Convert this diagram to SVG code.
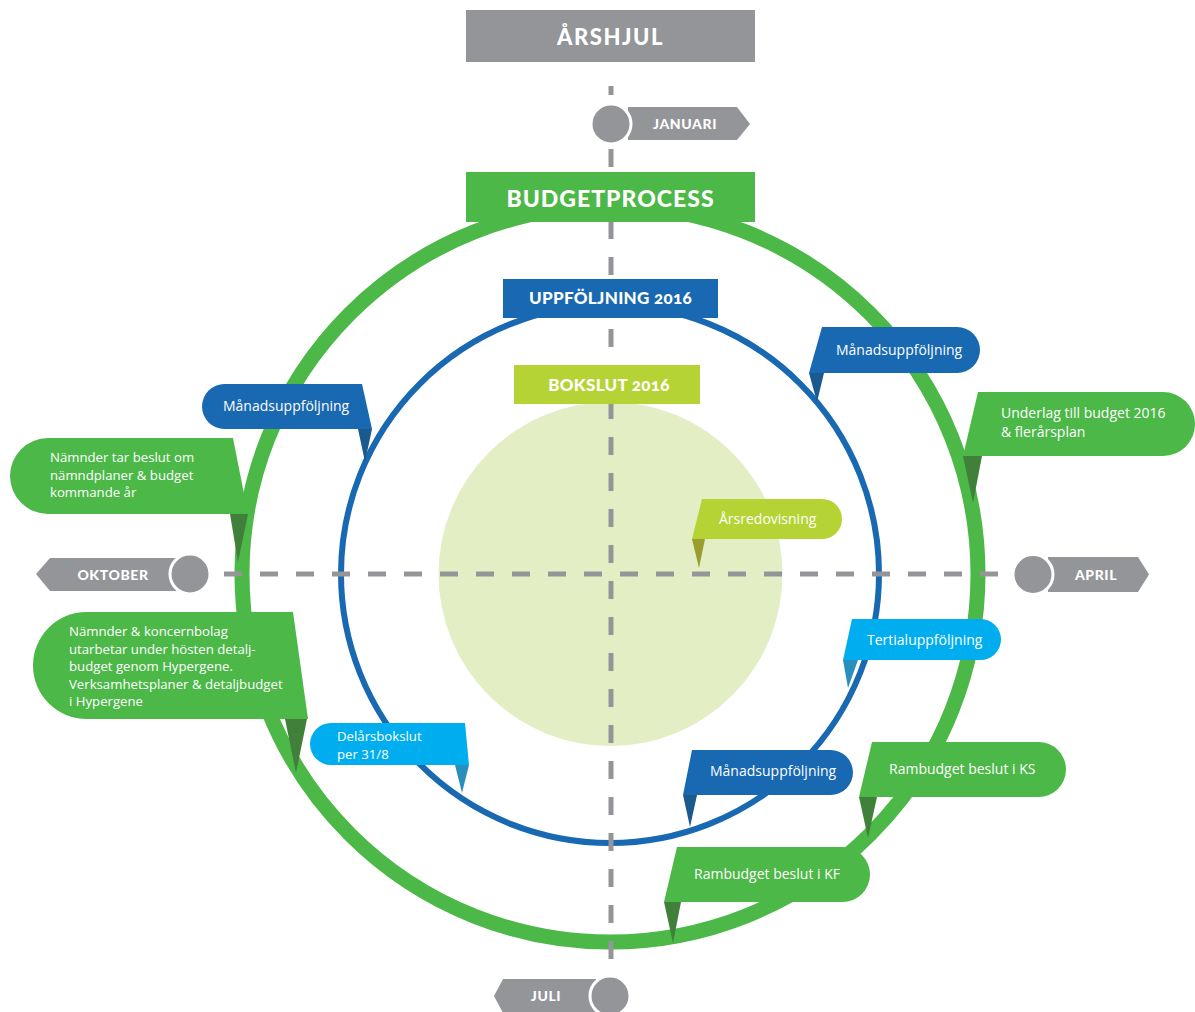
<svg xmlns="http://www.w3.org/2000/svg" width="1195" height="1012" viewBox="0 0 1195 1012">
<style>
.hd{font-family:Lato,"Open Sans","Liberation Sans",sans-serif;font-weight:900;fill:#fff;text-anchor:middle;font-variant-numeric:oldstyle-nums}
.mo{font-family:Lato,"Open Sans","Liberation Sans",sans-serif;font-weight:900;fill:#fff;text-anchor:middle;font-size:14px;letter-spacing:0.6px}
.tx{font-family:"Open Sans","Noto Sans","Liberation Sans",sans-serif;fill:#fff;font-size:14px}
.ts{font-family:"Open Sans","Noto Sans","Liberation Sans",sans-serif;fill:#fff;font-size:13.2px}
.axis{stroke:#939598;stroke-width:5;stroke-dasharray:18 18;fill:none}
.mc{fill:#939598;stroke:#fff;stroke-width:3}
.mt{fill:#939598}
.g{fill:#4cb848}.gd{fill:#41803a}
.b{fill:#1868b2}.bd{fill:#1a5a8c}
.c{fill:#00aeef}.cd{fill:#2a8fbd}
.l{fill:#b5d334}.ld{fill:#9a9e2e}
</style>

<g id="wheel">
  <circle cx="610.5" cy="574" r="172" fill="#e4eec5"/>
  <circle cx="610" cy="574" r="368" fill="none" stroke="#4cb848" stroke-width="15"/>
  <circle cx="610" cy="574" r="269" fill="none" stroke="#1868b2" stroke-width="6"/>
</g>

<g id="connectors">
  <line class="axis" x1="611" y1="86" x2="611" y2="1012" stroke-dashoffset="9"/>
  <line class="axis" x1="224" y1="574" x2="998" y2="574"/>
</g>

<g id="januari">
  <polygon class="mt" points="628,107 737,107 750,124 737,140 628,140"/>
  <circle class="mc" cx="611" cy="124" r="20"/>
  <text class="mo" x="685" y="129">JANUARI</text>
</g>
<g id="april">
  <polygon class="mt" points="1048,557 1138,557 1149,574.5 1138,592 1048,592"/>
  <circle class="mc" cx="1033" cy="574.5" r="20"/>
  <text class="mo" x="1096" y="579.5">APRIL</text>
</g>
<g id="oktober">
  <polygon class="mt" points="36,574 50,558 176,558 176,591 50,591"/>
  <circle class="mc" cx="190" cy="574" r="20"/>
  <text class="mo" x="113" y="579.5" font-size="15">OKTOBER</text>
</g>
<g id="juli">
  <polygon class="mt" points="494,996 503,979 596,979 596,1013 503,1013"/>
  <circle class="mc" cx="610" cy="996" r="20"/>
  <text class="mo" x="546" y="1001">JULI</text>
</g>

<g id="arshjul">
  <rect x="466" y="10" width="289" height="52" fill="#939598"/>
  <text class="hd" x="610.5" y="45" font-size="22" letter-spacing="1.5">ÅRSHJUL</text>
</g>
<g id="budgetprocess">
  <rect x="466" y="172" width="289" height="50" fill="#4cb848"/>
  <text class="hd" x="610.5" y="207" font-size="23" letter-spacing="1">BUDGETPROCESS</text>
</g>
<g id="uppfoljning">
  <rect x="503" y="279" width="215" height="39" fill="#1868b2"/>
  <text class="hd" x="610.5" y="304" font-size="17" letter-spacing="0.3">UPPFÖLJNING 2016</text>
</g>
<g id="bokslut">
  <rect x="514" y="365" width="186" height="39" fill="#b5d334"/>
  <text class="hd" x="609" y="391" font-size="17" letter-spacing="0.3">BOKSLUT 2016</text>
</g>

<g id="manad-1">
  <path class="b" d="M822,327 L957,327 A23,23 0 0 1 957,373 L809,373 Z"/>
  <polygon class="bd" points="809,373 824,373 817,402"/>
  <text class="tx" x="836" y="355">Månadsuppföljning</text>
</g>
<g id="underlag">
  <path class="g" d="M978,392 L1163,392 A32,32 0 0 1 1163,456 L963,456 Z"/>
  <polygon class="gd" points="963,456 982,456 973,503"/>
  <text class="tx" x="1001" y="418">Underlag till budget 2016</text>
  <text class="tx" x="1001" y="437">&amp; flerårsplan</text>
</g>
<g id="arsredovisning">
  <path class="l" d="M702,499 L822,499 A20,20 0 0 1 822,539 L692,539 Z"/>
  <polygon class="ld" points="692,539 705,539 699,568"/>
  <text class="tx" x="719" y="524">Årsredovisning</text>
</g>
<g id="tertial">
  <path class="c" d="M852,619 L980.5,619 A20.5,20.5 0 0 1 980.5,660 L843,660 Z"/>
  <polygon class="cd" points="843,660 858,660 848,688"/>
  <text class="tx" x="867" y="645">Tertialuppföljning</text>
</g>
<g id="manad-2">
  <path class="b" d="M692,750 L830.5,750 A22.5,22.5 0 0 1 830.5,795 L683,795 Z"/>
  <polygon class="bd" points="683,795 697,795 690,827"/>
  <text class="tx" x="710" y="776">Månadsuppföljning</text>
</g>
<g id="ks">
  <path class="g" d="M872,742 L1038.5,742 A27.5,27.5 0 0 1 1038.5,797 L859,797 Z"/>
  <polygon class="gd" points="859,797 877,797 868,838"/>
  <text class="tx" x="889" y="774">Rambudget beslut i KS</text>
</g>
<g id="kf">
  <path class="g" d="M677,847 L842.5,847 A27.5,27.5 0 0 1 842.5,902 L664,902 Z"/>
  <polygon class="gd" points="664,902 681,902 673,943"/>
  <text class="tx" x="694" y="879">Rambudget beslut i KF</text>
</g>

<g id="manad-3">
  <path class="b" d="M362,384 L224.5,384 A22.5,22.5 0 0 0 224.5,429 L372,429 Z"/>
  <polygon class="bd" points="358,429 372,429 365,462"/>
  <text class="tx" x="223" y="411">Månadsuppföljning</text>
</g>
<g id="namnder-beslut">
  <path class="g" d="M233,438 L48,438 A38,38 0 0 0 48,514 L248,514 Z"/>
  <polygon class="gd" points="230,514 248,514 238,562"/>
  <text class="ts" x="50" y="462">Nämnder tar beslut om</text>
  <text class="ts" x="50" y="479.5">nämndplaner &amp; budget</text>
  <text class="ts" x="50" y="497">kommande år</text>
</g>
<g id="namnder-koncern">
  <path class="g" d="M293,612 L86.5,612 A53.5,53.5 0 0 0 86.5,719 L308,719 Z"/>
  <polygon class="gd" points="285,719 307,719 296,773"/>
  <text class="ts" x="69" y="636">Nämnder &amp; koncernbolag</text>
  <text class="ts" x="69" y="653.5">utarbetar under hösten detalj-</text>
  <text class="ts" x="69" y="671">budget genom Hypergene.</text>
  <text class="ts" x="69" y="688.5">Verksamhetsplaner &amp; detaljbudget</text>
  <text class="ts" x="69" y="706">i Hypergene</text>
</g>
<g id="delarsbokslut">
  <path class="c" d="M465,723 L331,723 A21,21 0 0 0 331,765 L469,765 Z"/>
  <polygon class="cd" points="455,765 469,765 462,793"/>
  <text class="ts" x="337" y="741">Delårsbokslut</text>
  <text class="ts" x="337" y="758.5">per 31/8</text>
</g>
</svg>
